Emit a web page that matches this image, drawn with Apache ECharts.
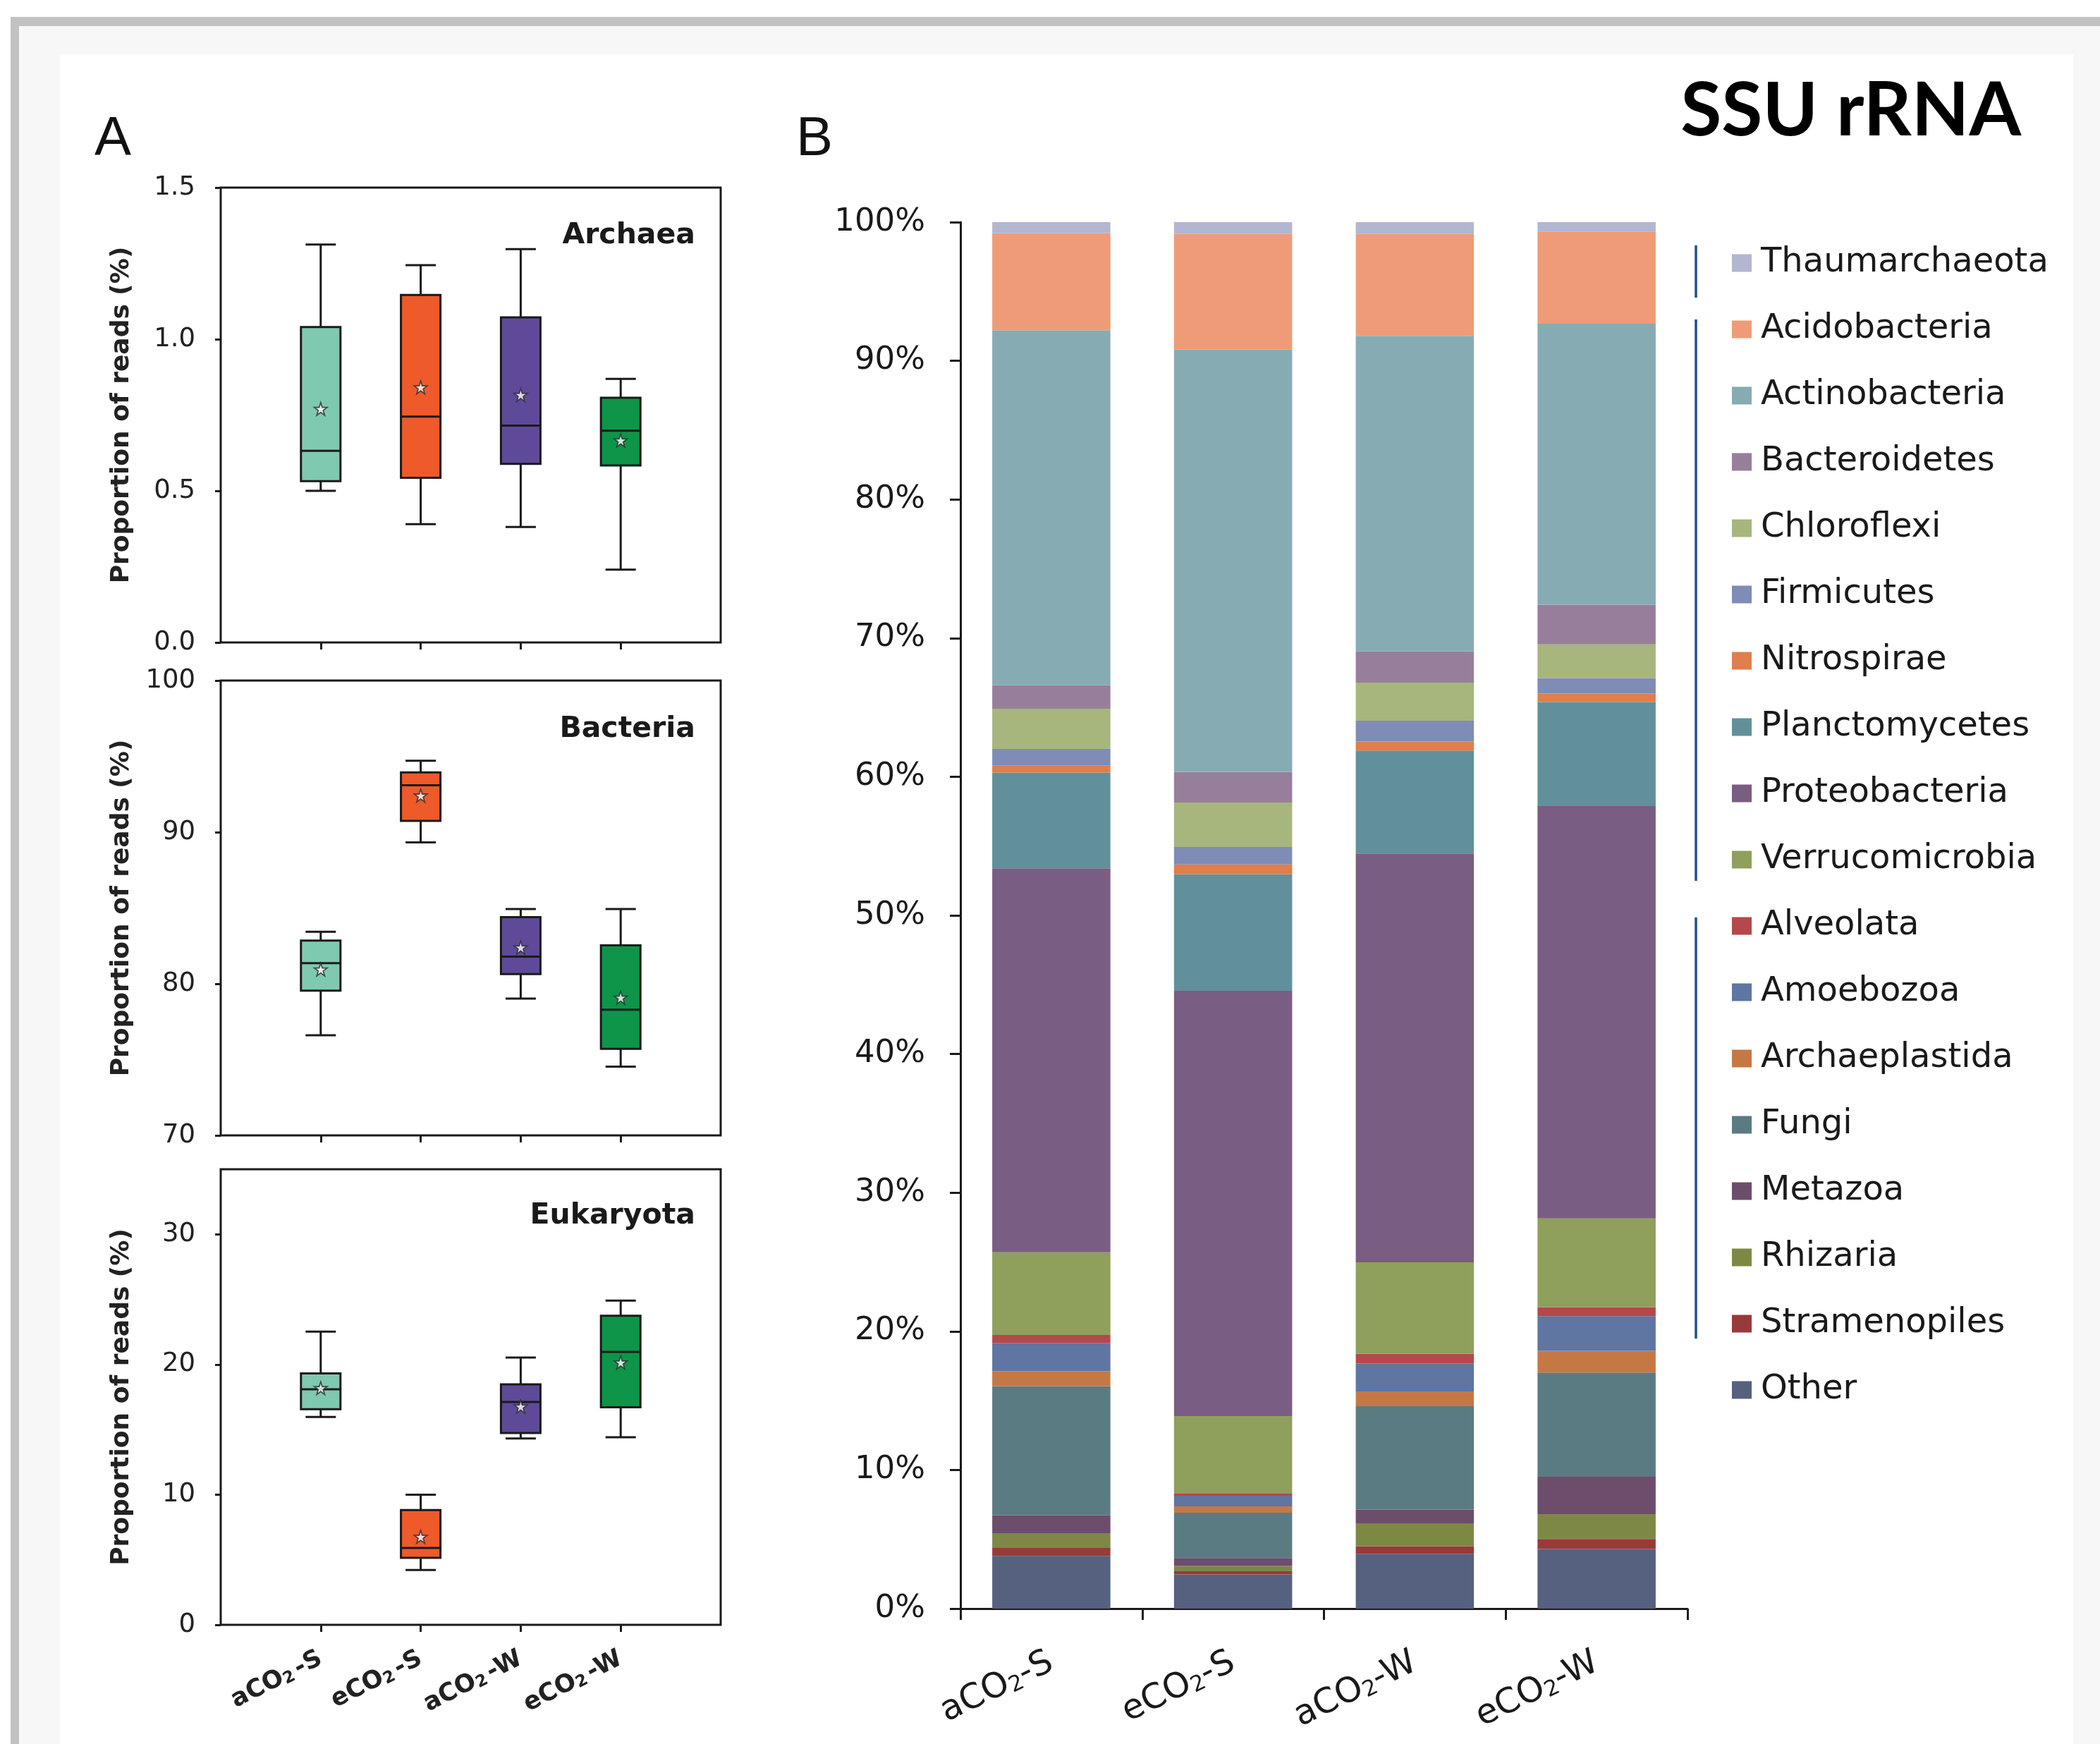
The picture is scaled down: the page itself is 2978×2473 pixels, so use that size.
<!DOCTYPE html>
<html><head><meta charset="utf-8">
<script src="https://cdn.jsdelivr.net/npm/echarts@6/dist/echarts.min.js"></script>
<style>html,body{margin:0;padding:0;background:#fff}#c{width:2978px;height:2473px}</style>
</head><body><div id="c"></div>
<script>
// ---------- DATA ----------
const groups = ['aCO2-S', 'eCO2-S', 'aCO2-W', 'eCO2-W'];
const boxSlots = ['', 'aCO2-S', 'eCO2-S', 'aCO2-W', 'eCO2-W', ''];

// box plot stats per group: [min, Q1, median, Q3, max]
const archaeaStats = [[0.50, 0.532, 0.632, 1.04, 1.312], [0.39, 0.543, 0.745, 1.146, 1.244], [0.381, 0.589, 0.715, 1.072, 1.297], [0.24, 0.584, 0.698, 0.807, 0.869]];
const archaeaMeans = [0.77, 0.841, 0.816, 0.666];
const bacteriaStats = [[76.6, 79.55, 81.36, 82.85, 83.43], [89.32, 90.75, 93.09, 93.94, 94.71], [79.02, 80.64, 81.79, 84.39, 84.93], [74.54, 75.71, 78.29, 82.54, 84.93]];
const bacteriaMeans = [80.94, 92.41, 82.39, 79.08];
const eukaryotaStats = [[15.97, 16.56, 18.09, 19.32, 22.53], [4.21, 5.15, 5.91, 8.82, 10.0], [14.32, 14.74, 17.12, 18.47, 20.53], [14.41, 16.71, 20.97, 23.74, 24.91]];
const eukaryotaMeans = [18.18, 6.76, 16.76, 20.15];

const archaeaTicks = [0, 0.5, 1.0, 1.5];
const bacteriaTicks = [70, 80, 90, 100];
const eukaryotaTicks = [0, 10, 20, 30];
const percentTicks = [0, 10, 20, 30, 40, 50, 60, 70, 80, 90, 100];

// stacked composition (% of reads), bottom to top
const other          = [3.80, 2.47, 3.95, 4.30];
const stramenopiles  = [0.57, 0.23, 0.54, 0.72];
const rhizaria       = [1.03, 0.38, 1.63, 1.79];
const metazoa        = [1.33, 0.57, 1.03, 2.70];
const fungi          = [9.32, 3.27, 7.45, 7.52];
const archaeplastida = [1.06, 0.46, 1.07, 1.56];
const amoebozoa      = [2.05, 0.76, 2.01, 2.51];
const alveolata      = [0.57, 0.19, 0.69, 0.65];
const verrucomicrobia= [5.97, 5.55, 6.61, 6.39];
const proteobacteria = [27.70, 30.68, 29.48, 29.75];
const planctomycetes = [6.90, 8.40, 7.43, 7.50];
const nitrospirae    = [0.50, 0.72, 0.65, 0.61];
const firmicutes     = [1.20, 1.25, 1.50, 1.11];
const chloroflexi    = [2.90, 3.21, 2.75, 2.43];
const bacteroidetes  = [1.70, 2.21, 2.25, 2.85];
const actinobacteria = [25.60, 30.45, 22.76, 20.29];
const acidobacteria  = [7.00, 8.35, 7.35, 6.64];
const thaumarchaeota = [0.80, 0.85, 0.85, 0.68];

const taxa = [
  ['Other', other], ['Stramenopiles', stramenopiles], ['Rhizaria', rhizaria], ['Metazoa', metazoa],
  ['Fungi', fungi], ['Archaeplastida', archaeplastida], ['Amoebozoa', amoebozoa], ['Alveolata', alveolata],
  ['Verrucomicrobia', verrucomicrobia], ['Proteobacteria', proteobacteria], ['Planctomycetes', planctomycetes],
  ['Nitrospirae', nitrospirae], ['Firmicutes', firmicutes], ['Chloroflexi', chloroflexi],
  ['Bacteroidetes', bacteroidetes], ['Actinobacteria', actinobacteria], ['Acidobacteria', acidobacteria],
  ['Thaumarchaeota', thaumarchaeota]
];

// ---------- STYLE ----------
const taxonColors = {
  Thaumarchaeota: '#b3b6d0', Acidobacteria: '#ef9b77', Actinobacteria: '#87abb3', Bacteroidetes: '#977f9c',
  Chloroflexi: '#a7b67d', Firmicutes: '#7f8cb5', Nitrospirae: '#e07e4c', Planctomycetes: '#61909b',
  Proteobacteria: '#7a5d82', Verrucomicrobia: '#8f9f5c', Alveolata: '#b5484b', Amoebozoa: '#5f75a2',
  Archaeplastida: '#c67844', Fungi: '#5b7b82', Metazoa: '#6c4d6b', Rhizaria: '#7e8845',
  Stramenopiles: '#983a3b', Other: '#566180'
};
const boxColors = ['#7fc9b1', '#ee5a2a', '#5e4a98', '#0e9549'];
const INK = '#1a1a1a';
const BOX_W = 56, CAP_W = 43;
const STAR = 'path://M50,2 L61.5,36 L97,36 L68.5,57.5 L79,92 L50,71 L21,92 L31.5,57.5 L3,36 L38.5,36 Z';

function subFmt(v) {
  if (!v) return '';
  const i = v.indexOf('2');
  return '{t|' + v.slice(0, i) + '}{s|2}{t|' + v.slice(i + 1) + '}';
}

const chart = echarts.init(document.getElementById('c'), null, {renderer: 'canvas'});

const boxPanels = [
  {name: 'Archaea', stats: archaeaStats, means: archaeaMeans, ticks: archaeaTicks, min: 0, max: 1.5, interval: 0.5, top: 266, height: 645, dec: 1},
  {name: 'Bacteria', stats: bacteriaStats, means: bacteriaMeans, ticks: bacteriaTicks, min: 70, max: 100, interval: 10, top: 965, height: 645, dec: 0},
  {name: 'Eukaryota', stats: eukaryotaStats, means: eukaryotaMeans, ticks: eukaryotaTicks, min: 0, max: 35, interval: 5, top: 1658, height: 646, dec: 0}
];

const grids = [], xAxes = [], yAxes = [], series = [];
boxPanels.forEach((p, k) => {
  grids.push({left: 313, top: p.top, width: 709, height: p.height, show: true, borderColor: INK, borderWidth: 3, backgroundColor: 'transparent'});
  xAxes.push({
    type: 'category', gridIndex: k, data: boxSlots, boundaryGap: false,
    axisLine: {show: false},
    axisTick: {show: true, length: 10, interval: (i) => i > 0 && i < 5, lineStyle: {color: INK, width: 3}},
    axisLabel: {
      show: k === 2, interval: 0, rotate: 27, margin: 46, hideOverlap: false,
      formatter: subFmt,
      rich: {
        t: {fontFamily: 'DejaVu Sans', fontWeight: 'bold', fontSize: 35, color: '#222'},
        s: {fontFamily: 'DejaVu Sans', fontWeight: 'bold', fontSize: 23, color: '#222', verticalAlign: 'bottom', padding: [0, 5, 0, 0]}
      }
    },
    splitLine: {show: false}
  });
  yAxes.push({
    type: 'value', gridIndex: k, min: p.min, max: p.max, interval: p.interval,
    axisLine: {show: false},
    axisTick: {show: true, length: 8, customValues: p.ticks, lineStyle: {color: INK, width: 3}},
    axisLabel: {customValues: p.ticks, margin: 36, fontFamily: 'DejaVu Sans', fontSize: 37, color: '#222',
      formatter: (v) => v.toFixed(p.dec)},
    splitLine: {show: false},
    name: 'Proportion of reads (%)', nameLocation: 'middle', nameRotate: 90, nameGap: 122,
    nameTextStyle: {fontFamily: 'DejaVu Sans', fontWeight: 'bold', fontSize: 36, color: '#222'}
  });
  series.push({
    type: 'custom', xAxisIndex: k, yAxisIndex: k,
    data: p.stats.map((s, i) => [i + 1].concat(s)),
    encode: {x: 0, y: [1, 2, 3, 4, 5]},
    renderItem: function (params, api) {
      const i = api.value(0);
      const pMin = api.coord([i, api.value(1)]);
      const pQ1 = api.coord([i, api.value(2)]);
      const pMed = api.coord([i, api.value(3)]);
      const pQ3 = api.coord([i, api.value(4)]);
      const pMax = api.coord([i, api.value(5)]);
      const cx = pMin[0], bw = BOX_W / 2, cw = CAP_W / 2;
      const ls = {stroke: INK, lineWidth: 3};
      return {type: 'group', children: [
        {type: 'line', shape: {x1: cx, y1: pMax[1], x2: cx, y2: pQ3[1]}, style: ls},
        {type: 'line', shape: {x1: cx, y1: pQ1[1], x2: cx, y2: pMin[1]}, style: ls},
        {type: 'line', shape: {x1: cx - cw, y1: pMax[1], x2: cx + cw, y2: pMax[1]}, style: ls},
        {type: 'line', shape: {x1: cx - cw, y1: pMin[1], x2: cx + cw, y2: pMin[1]}, style: ls},
        {type: 'rect', shape: {x: cx - bw, y: pQ3[1], width: 2 * bw, height: pQ1[1] - pQ3[1]},
          style: {fill: boxColors[params.dataIndex], stroke: INK, lineWidth: 3}},
        {type: 'line', shape: {x1: cx - bw, y1: pMed[1], x2: cx + bw, y2: pMed[1]}, style: ls}
      ]};
    },
    z: 3
  });
  series.push({
    type: 'scatter', xAxisIndex: k, yAxisIndex: k,
    data: p.means.map((m, i) => [i + 1, m]),
    symbol: STAR, symbolSize: 18,
    itemStyle: {color: '#ffffff', borderColor: '#2a2a2a', borderWidth: 1.8},
    z: 5, silent: true
  });
});

// stacked bar chart
grids.push({left: 1362, top: 315, width: 1031, height: 1966});
xAxes.push({
  type: 'category', gridIndex: 3, data: groups, boundaryGap: true,
  axisLine: {show: true, lineStyle: {color: INK, width: 3}},
  axisTick: {show: true, length: 16, lineStyle: {color: INK, width: 3}},
  axisLabel: {
    interval: 0, rotate: 26, margin: 74, formatter: subFmt,
    rich: {
      t: {fontFamily: 'DejaVu Sans', fontSize: 49, color: '#1a1a1a'},
      s: {fontFamily: 'DejaVu Sans', fontSize: 31, color: '#1a1a1a', verticalAlign: 'bottom'}
    }
  }
});
yAxes.push({
  type: 'value', gridIndex: 3, min: 0, max: 100, interval: 10,
  axisLine: {show: true, lineStyle: {color: INK, width: 3}},
  axisTick: {show: true, length: 15, lineStyle: {color: INK, width: 3}},
  axisLabel: {customValues: percentTicks, margin: 50, fontFamily: 'DejaVu Sans', fontSize: 45, color: '#1a1a1a', formatter: '{value}%'},
  splitLine: {show: false}
});
taxa.forEach(([name, vals]) => {
  series.push({
    type: 'bar', name: name, xAxisIndex: 3, yAxisIndex: 3, stack: 'total',
    data: vals, barWidth: '65%', itemStyle: {color: taxonColors[name]}, z: 2
  });
});

const legendOrder = taxa.map(t => t[0]).reverse();

const W = 2978, H = 2473;
const graphic = [
  {type: 'rect', shape: {x: 15, y: 24, width: W - 15, height: 13}, style: {fill: '#c2c2c2'}, z: -10},
  {type: 'rect', shape: {x: 15, y: 24, width: 12, height: H - 24}, style: {fill: '#c2c2c2'}, z: -10},
  {type: 'rect', shape: {x: 27, y: 37, width: W - 27, height: 40}, style: {fill: '#f7f7f7'}, z: -10},
  {type: 'rect', shape: {x: 27, y: 77, width: 58, height: H - 77}, style: {fill: '#f7f7f7'}, z: -10},
  {type: 'rect', shape: {x: 2940, y: 77, width: W - 2940, height: H - 77}, style: {fill: '#f7f7f7'}, z: -10},
  // group brackets next to the legend
  {type: 'line', shape: {x1: 2405, y1: 348, x2: 2405, y2: 422}, style: {stroke: '#1f4e8c', lineWidth: 3.5}},
  {type: 'line', shape: {x1: 2405, y1: 453, x2: 2405, y2: 1249}, style: {stroke: '#1f4e8c', lineWidth: 3.5}},
  {type: 'line', shape: {x1: 2405, y1: 1301, x2: 2405, y2: 1898}, style: {stroke: '#1f4e8c', lineWidth: 3.5}},
  // texts
  {type: 'text', style: {text: 'A', x: 134, y: 198, textAlign: 'left', textVerticalAlign: 'middle', font: '78px "Liberation Sans"', fill: '#111'}},
  {type: 'text', style: {text: 'B', x: 1129, y: 198, textAlign: 'left', textVerticalAlign: 'middle', font: '78px "Liberation Sans"', fill: '#111'}},
  {type: 'text', style: {text: 'SSU rRNA', x: 2866, y: 158, textAlign: 'right', textVerticalAlign: 'middle', font: 'bold 106px Lato', fill: '#000'}},
  {type: 'text', style: {text: 'Archaea', x: 986, y: 334, textAlign: 'right', textVerticalAlign: 'middle', font: 'bold 41px "DejaVu Sans"', fill: '#1a1a1a'}},
  {type: 'text', style: {text: 'Bacteria', x: 986, y: 1034, textAlign: 'right', textVerticalAlign: 'middle', font: 'bold 41px "DejaVu Sans"', fill: '#1a1a1a'}},
  {type: 'text', style: {text: 'Eukaryota', x: 986, y: 1724, textAlign: 'right', textVerticalAlign: 'middle', font: 'bold 41px "DejaVu Sans"', fill: '#1a1a1a'}}
];

chart.setOption({
  backgroundColor: '#ffffff',
  animation: false,
  grid: grids,
  xAxis: xAxes,
  yAxis: yAxes,
  legend: {
    data: legendOrder, orient: 'vertical', left: 2456, top: 345, padding: 0,
    itemWidth: 28, itemHeight: 25, itemGap: 38, icon: 'rect', selectedMode: false,
    textStyle: {fontFamily: 'DejaVu Sans', fontSize: 48, color: '#1a1a1a', lineHeight: 56, padding: [0, 0, 0, 8]}
  },
  graphic: graphic,
  series: series
});
</script></body></html>
